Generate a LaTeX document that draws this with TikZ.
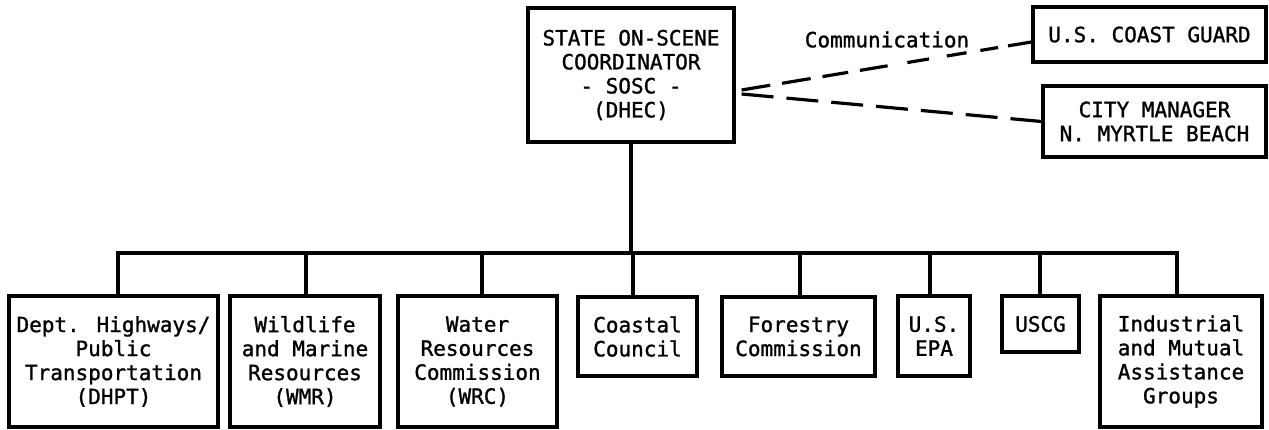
\documentclass[tikz,border=0pt]{standalone}
\usepackage{fontspec}
\newfontfamily\tw[BoldFont={DejaVu Sans Mono}, BoldFeatures={FakeBold=1.2}]{DejaVu Sans Mono}
\begin{document}
\begin{tikzpicture}[x=1pt,y=-1pt,
  box/.style={draw, line width=3.2pt, inner sep=0pt, align=center,
    font=\tw\bfseries\fontsize{21}{24}\selectfont},
  lbl/.style={inner sep=0pt, font=\tw\bfseries\fontsize{21}{24}\selectfont},
  conn/.style={line width=3.2pt},
  dashline/.style={line width=3.2pt, dash pattern=on 32pt off 13pt},
  dashupper/.style={line width=3.2pt, dash pattern=on 29pt off 12pt on 29pt off 12pt
    on 26pt off 12pt on 28pt off 20pt on 22pt off 18pt on 20pt off 14pt
    on 18pt off 10pt on 30pt off 10pt}]
\useasboundingbox[fill=white] (0,0) rectangle (1269,430);

\node[box, minimum width=206pt, minimum height=134pt] (top) at (631,75)
  {STATE ON-SCENE\\COORDINATOR\\- SOSC -\\(DHEC)};
\node[box, minimum width=233pt, minimum height=55pt] (cg) at (1149.5,34.5)
  {U.S. COAST GUARD};
\node[box, minimum width=223pt, minimum height=71pt] (city) at (1154.5,121.5)
  {CITY MANAGER\\N. MYRTLE BEACH};
\node[lbl] (comm) at (887,39.5) {Communication};

\node[box, minimum width=209pt, minimum height=131pt] (b1) at (113.5,361.5)
  {Dept. Highways/\\Public\\Transportation\\(DHPT)};
\node[box, minimum width=150pt, minimum height=131pt] (b2) at (305,361.5)
  {Wildlife\\and Marine\\Resources\\(WMR)};
\node[box, minimum width=159pt, minimum height=131pt] (b3) at (477.5,361.5)
  {Water\\Resources\\Commission\\(WRC)};
\node[box, minimum width=119pt, minimum height=79pt] (b4) at (637.5,336.5)
  {Coastal\\Council};
\node[box, minimum width=153pt, minimum height=79pt] (b5) at (798.5,336.5)
  {Forestry\\Commission};
\node[box, minimum width=72pt, minimum height=80pt] (b6) at (934,336)
  {U.S.\\EPA};
\node[box, minimum width=77pt, minimum height=56pt] (b7) at (1040.5,324)
  {USCG};
\node[box, minimum width=162pt, minimum height=131pt] (b8) at (1181,361.5)
  {Industrial\\and Mutual\\Assistance\\Groups};

\coordinate (bus) at (631,253);
\draw[conn] (top.south) -- (bus);
\draw[conn] ([xshift=4.5pt]b1.north) |- (bus);
\draw[conn] ([xshift=1pt]b2.north) |- (bus);
\draw[conn] ([xshift=4.5pt]b3.north) |- (bus);
\draw[conn] ([xshift=-4.5pt]b4.north) |- (bus);
\draw[conn] ([xshift=1.5pt]b5.north) |- (bus);
\draw[conn] ([xshift=-4pt]b6.north) |- (bus);
\draw[conn] ([xshift=-0.5pt]b7.north) |- (bus);
\draw[conn] ([xshift=-4pt]b8.north) |- (bus);

\draw[dashupper] ([shift={(6pt,-15pt)}]top.east) -- ([yshift=-7.5pt]cg.west);
\draw[dashline] ([shift={(6pt,-19pt)}]top.east) -- (city.west);
\end{tikzpicture}
\end{document}
